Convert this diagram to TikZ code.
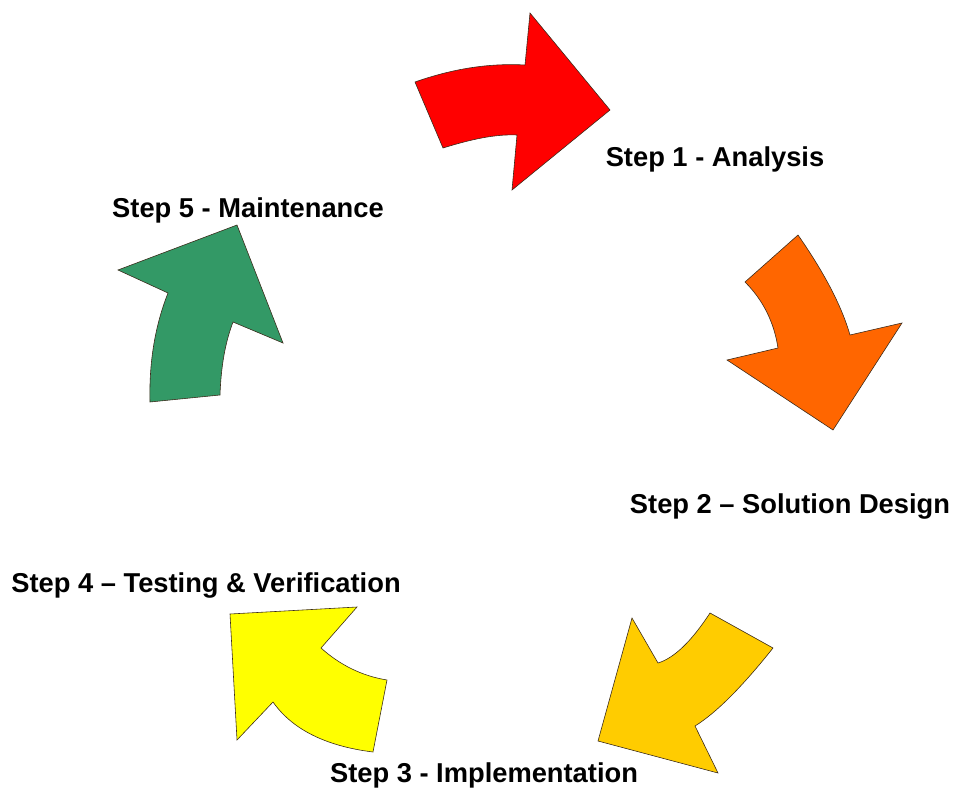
\documentclass[tikz,border=0pt]{standalone}
\usepackage{fontspec}
\setmainfont{Liberation Sans}
\usetikzlibrary{positioning}
\definecolor{redstep}{HTML}{FF0000}
\definecolor{orangestep}{HTML}{FF6600}
\definecolor{goldstep}{HTML}{FFCC00}
\definecolor{yellowstep}{HTML}{FFFF00}
\definecolor{greenstep}{HTML}{339966}
\definecolor{edgegrey}{HTML}{3A2A1A}
\tikzset{
    %Define style for the curved block arrows
    steparrow/.style={
      draw=edgegrey,
      line width=0.5pt,
      line join=miter},
    % Define style for the step captions
    steplabel/.style={
      anchor=base,
      inner sep=0pt,
      font=\fontsize{23.3}{28}\selectfont\bfseries}
}
\begin{document}
\begin{tikzpicture}[x=0.03cm, y=-0.03cm]
    \useasboundingbox (0,0) rectangle (953,790);

    % arrows, clockwise from the top
    \fill[steparrow, fill=redstep] (415,82)
      .. controls (452,69) and (488,63) .. (525,65)
      -- (530,13) -- (610,110) -- (512,190) -- (517,135)
      .. controls (496,134) and (472,139) .. (443,148) -- cycle;
    \fill[steparrow, fill=orangestep] (798,235) -- (745,282)
      .. controls (763,300) and (774,322) .. (778,348)
      -- (727,360) -- (833,430) -- (902,323) -- (850,335)
      .. controls (841,304) and (823,271) .. (798,235) -- cycle;
    \fill[steparrow, fill=goldstep] (710,613) -- (773,648)
      .. controls (742,687) and (716,713) .. (695,726)
      -- (718,773) -- (598,741) -- (632,618) -- (658,663)
      .. controls (674,658) and (691,642) .. (710,613) -- cycle;
    \fill[steparrow, fill=yellowstep] (230,614) -- (357,607) -- (321,648)
      .. controls (340,665) and (362,676) .. (387,680) -- (373,752)
      .. controls (325,746) and (292,729) .. (273,702) -- (237,740) -- cycle;
    \fill[steparrow, fill=greenstep] (150,402) -- (220,395)
      .. controls (221,367) and (225,343) .. (233,322)
      -- (283,343) -- (237,225) -- (118,270) -- (168,293)
      .. controls (155,326) and (149,362) .. (150,402) -- cycle;

    \node[steplabel] (analysis) at (715,167) {Step 1 - Analysis};
    \node[steplabel] (design) at (790,513) {Step 2 -- Solution Design};
    \node[steplabel] (implement) at (484,782) {Step 3 - Implementation};
    \node[steplabel] (testing) at (206,592) {Step 4 -- Testing \& Verification};
    \node[steplabel] (maintain) at (248,217) {Step 5 - Maintenance};
\end{tikzpicture}
\end{document}
